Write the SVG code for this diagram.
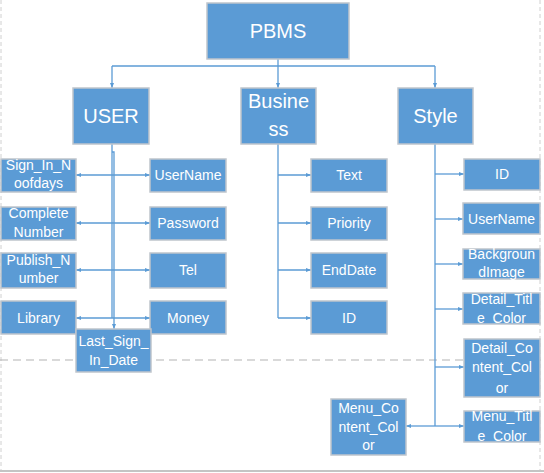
<svg xmlns="http://www.w3.org/2000/svg" width="544" height="473" viewBox="0 0 544 473">
<style>
.bg{fill:#ffffff}
.box{fill:#5B9BD5;stroke:#BFC5CC;stroke-width:1.5}
.t{fill:#ffffff;font-family:"Liberation Sans",Arial,sans-serif;font-size:14px;text-anchor:middle}
.big{font-size:20px}
.c{fill:none;stroke:#5B9BD5;stroke-width:1.3}
.frame{fill:none;stroke:#D0D0D0;stroke-width:1;stroke-dasharray:4 3}
.sep{fill:none;stroke:#B4B4B4;stroke-width:1.2;stroke-dasharray:8 5}
</style>
<defs>
<marker id="ah" viewBox="0 0 10 10" refX="10" refY="5" markerWidth="5" markerHeight="5" orient="auto-start-reverse" markerUnits="userSpaceOnUse">
<path d="M0,1 L10,5 L0,9 z" fill="#5B9BD5"/>
</marker>
</defs>
<rect class="bg" x="0" y="0" width="544" height="473"/>
<g id="frame">
<line class="frame" x1="1" y1="0" x2="1" y2="470"/>
<line class="frame" x1="540" y1="0" x2="540" y2="470"/>
<line x1="0" y1="471" x2="544" y2="471" stroke="#B0B0B0" stroke-width="1.5"/>
<line class="sep" x1="0" y1="360" x2="544" y2="360"/>
</g>
<g id="connectors">
<path class="c" d="M278,59 V88" marker-end="url(#ah)"/>
<path class="c" d="M112,66 H435"/>
<path class="c" d="M112,66 V88" marker-end="url(#ah)"/>
<path class="c" d="M435,66 V88" marker-end="url(#ah)"/>
<path class="c" d="M112,144 V318"/>
<path class="c" d="M112,152 H114 V329" marker-end="url(#ah)"/>
<path class="c" d="M76,175 H150" marker-start="url(#ah)" marker-end="url(#ah)"/>
<path class="c" d="M76,223 H150" marker-start="url(#ah)" marker-end="url(#ah)"/>
<path class="c" d="M76,270 H150" marker-start="url(#ah)" marker-end="url(#ah)"/>
<path class="c" d="M76,318 H150" marker-start="url(#ah)" marker-end="url(#ah)"/>
<path class="c" d="M278,144 V318"/>
<path class="c" d="M278,175 H311" marker-end="url(#ah)"/>
<path class="c" d="M278,223 H311" marker-end="url(#ah)"/>
<path class="c" d="M278,270 H311" marker-end="url(#ah)"/>
<path class="c" d="M278,318 H311" marker-end="url(#ah)"/>
<path class="c" d="M435,144 V426"/>
<path class="c" d="M435,174 H464" marker-end="url(#ah)"/>
<path class="c" d="M435,219 H463" marker-end="url(#ah)"/>
<path class="c" d="M435,264 H463" marker-end="url(#ah)"/>
<path class="c" d="M435,309 H463" marker-end="url(#ah)"/>
<path class="c" d="M435,367 H464" marker-end="url(#ah)"/>
<path class="c" d="M435,426 H464" marker-end="url(#ah)"/>
<path class="c" d="M435,426 H406" marker-end="url(#ah)"/>
</g>
<g id="PBMS"><rect class="box" x="207" y="3" width="142" height="56"/><text class="t big" x="278" y="38">PBMS</text></g>
<g id="USER"><rect class="box" x="73" y="88" width="76" height="56"/><text class="t big" x="111" y="123">USER</text></g>
<g id="Business"><rect class="box" x="241" y="88" width="75" height="56"/><text class="t big" x="278.5" y="108">Busine</text><text class="t big" x="278.5" y="136">ss</text></g>
<g id="Style"><rect class="box" x="398" y="88" width="75" height="56"/><text class="t big" x="435.5" y="123">Style</text></g>

<g id="Sign_In_Noofdays"><rect class="box" x="1" y="159" width="75" height="33"/><text class="t" x="38.5" y="170">Sign_In_N</text><text class="t" x="38.5" y="188">oofdays</text></g>
<g id="CompleteNumber"><rect class="box" x="1" y="207" width="75" height="33"/><text class="t" x="38.5" y="218">Complete</text><text class="t" x="38.5" y="237">Number</text></g>
<g id="Publish_Number"><rect class="box" x="1" y="253" width="75" height="35"/><text class="t" x="38.5" y="265">Publish_N</text><text class="t" x="38.5" y="283">umber</text></g>
<g id="Library"><rect class="box" x="1" y="301" width="75" height="33"/><text class="t" x="38.5" y="323">Library</text></g>

<g id="UserName1"><rect class="box" x="150" y="159" width="76" height="33"/><text class="t" x="188" y="180">UserName</text></g>
<g id="Password"><rect class="box" x="150" y="207" width="76" height="33"/><text class="t" x="188" y="228">Password</text></g>
<g id="Tel"><rect class="box" x="150" y="253" width="76" height="35"/><text class="t" x="188" y="275">Tel</text></g>
<g id="Money"><rect class="box" x="150" y="301" width="76" height="33"/><text class="t" x="188" y="323">Money</text></g>
<g id="Last_Sign_In_Date"><rect class="box" x="76" y="329" width="75" height="43"/><text class="t" x="113.5" y="346">Last_Sign_</text><text class="t" x="113.5" y="365">In_Date</text></g>

<g id="Text"><rect class="box" x="311" y="159" width="76" height="33"/><text class="t" x="349" y="180">Text</text></g>
<g id="Priority"><rect class="box" x="311" y="207" width="76" height="33"/><text class="t" x="349" y="228">Priority</text></g>
<g id="EndDate"><rect class="box" x="311" y="253" width="76" height="35"/><text class="t" x="349" y="275">EndDate</text></g>
<g id="ID1"><rect class="box" x="311" y="301" width="76" height="33"/><text class="t" x="349" y="323">ID</text></g>

<g id="ID2"><rect class="box" x="464" y="159" width="76" height="31"/><text class="t" x="502" y="179">ID</text></g>
<g id="UserName2"><rect class="box" x="463" y="203" width="77" height="31"/><text class="t" x="501.5" y="224">UserName</text></g>
<g id="BackgroundImage"><rect class="box" x="463" y="249" width="77" height="30"/><text class="t" x="501.5" y="259">Backgroun</text><text class="t" x="501.5" y="277">dImage</text></g>
<g id="Detail_Title_Color"><rect class="box" x="463" y="293" width="77" height="31"/><text class="t" x="501.5" y="304">Detail_Titl</text><text class="t" x="501.5" y="323">e_Color</text></g>
<g id="Detail_Content_Color"><rect class="box" x="464" y="339" width="76" height="58"/><text class="t" x="502" y="353">Detail_Co</text><text class="t" x="502" y="372">ntent_Col</text><text class="t" x="502" y="393">or</text></g>
<g id="Menu_Title_Color"><rect class="box" x="464" y="411" width="76" height="31"/><text class="t" x="502" y="421">Menu_Titl</text><text class="t" x="502" y="441">e_Color</text></g>
<g id="Menu_Content_Color"><rect class="box" x="331" y="399" width="75" height="56"/><text class="t" x="368.5" y="413">Menu_Co</text><text class="t" x="368.5" y="432">ntent_Col</text><text class="t" x="368.5" y="450">or</text></g>
</svg>
